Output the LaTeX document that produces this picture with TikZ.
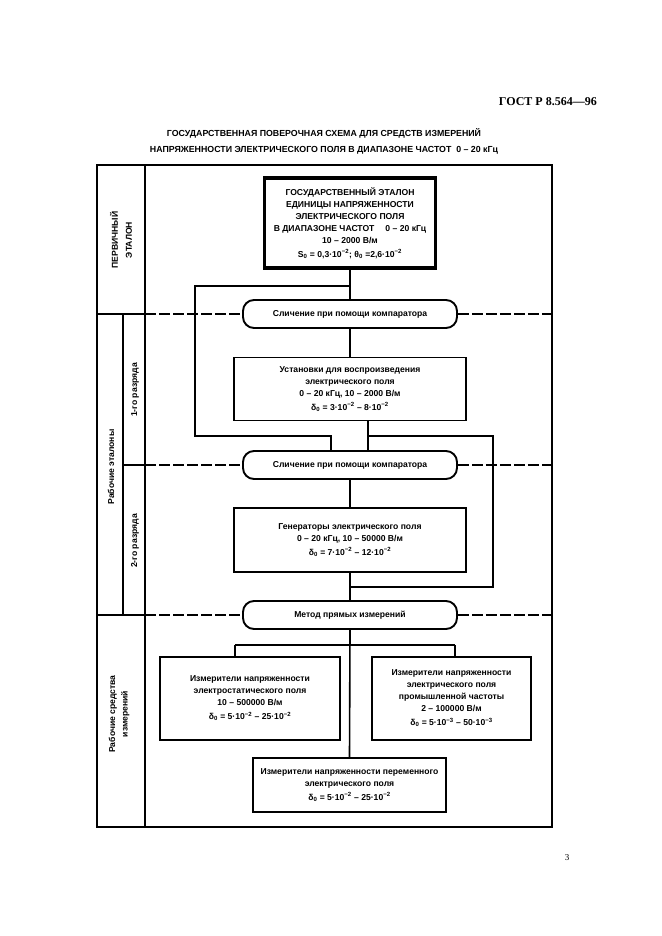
\documentclass[tikz,border=0pt]{standalone}
\usepackage{fontspec}
\setmainfont{Liberation Sans}
\newfontfamily\serifF{Liberation Serif}
\newcommand{\txtfont}{\fontsize{8.6}{12}\selectfont\bfseries}
\newcommand{\sub}[1]{\textsubscript{#1}}
\newcommand{\spr}[1]{\textsuperscript{#1}}
\begin{document}
\begin{tikzpicture}[x=1pt,y=-1pt,
 frame/.style={line width=1.3pt},
 conn/.style={line width=1.6pt},
 dsh/.style={line width=1.3pt, dash pattern=on 11pt off 3pt},
 box/.style={draw, line width=1.9pt, fill=white, align=center, font=\txtfont, inner sep=2pt},
 capsule/.style={draw, line width=1.9pt, rounded corners=11pt, fill=white, minimum width=214pt, minimum height=28pt, font=\txtfont, inner sep=0pt},
 lbl/.style={rotate=90, align=center, font=\txtfont, inner sep=0pt},
]
\useasboundingbox (0,0) rectangle (661,936);
\fill[white] (0,0) rectangle (661,936);

% header and title
\node[font=\serifF\bfseries\fontsize{12}{14}\selectfont, anchor=base east, inner sep=0pt] (hdr) at (597,106) {ГОСТ Р 8.564—96};
\node[font=\fontsize{8.8}{16}\selectfont\bfseries, align=center, inner sep=0pt] (title) at (324,141)
 {ГОСУДАРСТВЕННАЯ ПОВЕРОЧНАЯ СХЕМА ДЛЯ СРЕДСТВ ИЗМЕРЕНИЙ\\
  НАПРЯЖЕННОСТИ ЭЛЕКТРИЧЕСКОГО ПОЛЯ В ДИАПАЗОНЕ ЧАСТОТ \ 0 – 20 кГц};
\node[font=\serifF\fontsize{9}{11}\selectfont, inner sep=0pt] (pg) at (567,858) {3};

% frame
\draw[frame] (97,165) rectangle (552,827);
\draw[frame] (145,165) -- (145,827);
\draw[line width=2.6pt] (123,314) -- (123,615);

% capsules
\node[capsule] (c1) at (350,314) {Сличение при помощи компаратора};
\node[capsule] (c2) at (350,465) {Сличение при помощи компаратора};
\node[capsule] (c3) at (350,615) {Метод прямых измерений};

% row lines
\draw[frame] (97,314) -- (145,314);
\draw[dsh] (145,314) -- (c1.west);
\draw[dsh] (c1.east) -- (552,314);
\draw[frame] (123,465) -- (145,465);
\draw[dsh] (145,465) -- (c2.west);
\draw[dsh] (c2.east) -- (552,465);
\draw[frame] (97,615) -- (145,615);
\draw[dsh] (145,615) -- (c3.west);
\draw[dsh] (c3.east) -- (552,615);

% left labels
\node[lbl, font=\fontsize{8.6}{14}\selectfont\bfseries] (l1) at (121,240) {ПЕРВИЧНЫЙ\\ЭТАЛОН};
\node[lbl] (l2) at (111,467) {Рабочие эталоны};
\node[lbl] (l3) at (135,390) {1-го разряда};
\node[lbl] (l4) at (135,541) {2-го разряда};
\node[lbl, font=\fontsize{8.6}{12.5}\selectfont\bfseries] (l5) at (119,714) {Рабочие средства\\измерений};

% boxes
\node[box, line width=3.4pt, minimum width=171pt, minimum height=90pt] (b1) at (350,223)
 {ГОСУДАРСТВЕННЫЙ ЭТАЛОН\\ЕДИНИЦЫ НАПРЯЖЕННОСТИ\\ЭЛЕКТРИЧЕСКОГО ПОЛЯ\\
  В ДИАПАЗОНЕ ЧАСТОТ \quad 0 – 20 кГц\\10 – 2000 В/м\\[2pt]
  S\sub{0} = 0,3·10\spr{−2}; θ\sub{0} =2,6·10\spr{−2}};
\node[box, minimum width=232pt, minimum height=63pt] (b2) at (350,389)
 {Установки для воспроизведения\\электрического поля\\0 – 20 кГц, 10 – 2000 В/м\\[2pt]
  δ\sub{0} = 3·10\spr{−2} – 8·10\spr{−2}};
\node[box, minimum width=232pt, minimum height=64pt] (b3) at (350,540)
 {Генераторы электрического поля\\0 – 20 кГц, 10 – 50000 В/м\\[2pt]
  δ\sub{0} = 7·10\spr{−2} – 12·10\spr{−2}};
\node[box, minimum width=180pt, minimum height=83pt] (b4) at (250,698.5)
 {Измерители напряженности\\электростатического поля\\10 – 500000 В/м\\[2pt]
  δ\sub{0} = 5·10\spr{−2} – 25·10\spr{−2}};
\node[box, minimum width=159pt, minimum height=83pt] (b5) at (451.5,698.5)
 {Измерители напряженности\\электрического поля\\промышленной частоты\\2 – 100000 В/м\\[2pt]
  δ\sub{0} = 5·10\spr{−3} – 50·10\spr{−3}};
\node[box, minimum width=193pt, minimum height=54pt] (b6) at (349.5,785)
 {Измерители напряженности переменного\\электрического поля\\[2pt]
  δ\sub{0} = 5·10\spr{−2} – 25·10\spr{−2}};

% connectors
\coordinate (j1) at (350,286);
\coordinate (L1) at (195,286);
\coordinate (L2) at (195,436);
\coordinate (L3) at (331,436);
\coordinate (R0) at (368,436);
\coordinate (R1) at (493,436);
\coordinate (R2) at (493,587);
\coordinate (R3) at (350,587);
\coordinate (M1) at (235,645);
\coordinate (M2) at (455,645);

\draw[conn] (b1.south) -- (c1.north);
\draw[conn] (j1) -- (L1) -- (L2) -- (L3) -- (L3 |- c2.north);
\draw[conn] (c1.south) -- (b2.north);
\draw[conn] (b2.south -| R0) -- (R0 |- c2.north);
\draw[conn] (R0) -- (R1) -- (R2) -- (R3);
\draw[conn] (c2.south) -- (b3.north);
\draw[conn] (b3.south) -- (c3.north);
\draw[conn] (c3.south) -- (b6.north);
\draw[conn] (M1) -- (M2);
\draw[conn] (M1) -- (M1 |- b4.north);
\draw[conn] (M2) -- (M2 |- b5.north);
\end{tikzpicture}
\end{document}
